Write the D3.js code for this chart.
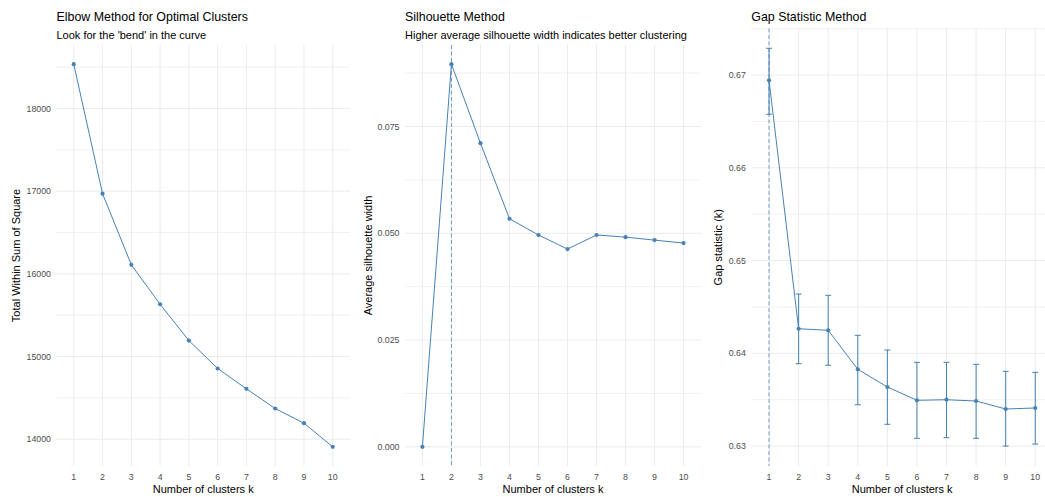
<!DOCTYPE html>
<html><head><meta charset="utf-8">
<script src="https://cdn.jsdelivr.net/npm/d3@7"></script>
<style>
body{margin:0;background:#fff}
svg{display:block}
text{font-family:"Liberation Sans",Arial,Helvetica,sans-serif}
</style></head>
<body><svg id="c" width="1045" height="497"></svg>
<script>
// ---- data ----
const clustersK = [1,2,3,4,5,6,7,8,9,10];
const elbowWSS = [18536,16969,16109,15632,15193,14855,14609,14371,14193,13907];
const silhouetteWidth = [0,0.0896,0.0711,0.0534,0.0496,0.0463,0.0496,0.0491,0.0484,0.0477];
const gapStat  = [0.66943,0.64265,0.64248,0.63828,0.63637,0.63494,0.63500,0.63486,0.63400,0.63411];
const gapLower = [0.66577,0.63888,0.63871,0.63446,0.63235,0.63084,0.63091,0.63084,0.63000,0.63022];
const gapUpper = [0.67288,0.64639,0.64625,0.64194,0.64036,0.63903,0.63903,0.63881,0.63806,0.63795];
const elbowTicks = [14000,15000,16000,17000,18000];
const silTicks = [0,0.025,0.05,0.075];
const gapTicks = [0.63,0.64,0.65,0.66,0.67];
const optimalSil = 2;
const optimalGap = 1;

const svg = d3.select("#c");
const COL = "steelblue";

function panel(cfg){
  const g = svg.append("g");
  const x = d3.scalePoint().domain(clustersK).range([cfg.left,cfg.right]).padding(0.6);
  const lo = d3.min(cfg.lo || cfg.values), hi = d3.max(cfg.hi || cfg.values);
  const pad = (hi-lo)*0.05;
  const y = d3.scaleLinear().domain([lo-pad,hi+pad]).range([cfg.bottom,cfg.top]);
  const [d0,d1] = y.domain();
  // minor grid
  const step = cfg.ticks[1]-cfg.ticks[0];
  const minors = [];
  for(let t=cfg.ticks[0]-step/2; t<=d1+1e-12; t+=step){ if(t>=d0-1e-12) minors.push(t); }
  g.selectAll(".mn").data(minors).join("line")
    .attr("x1",cfg.left).attr("x2",cfg.right)
    .attr("y1",d=>y(d)).attr("y2",d=>y(d))
    .attr("stroke","#ededed").attr("stroke-width",0.8);
  g.selectAll(".mj").data(cfg.ticks).join("line")
    .attr("x1",cfg.left).attr("x2",cfg.right)
    .attr("y1",d=>y(d)).attr("y2",d=>y(d))
    .attr("stroke","#ebebeb").attr("stroke-width",1);
  g.selectAll(".vx").data(clustersK).join("line")
    .attr("x1",d=>x(d)).attr("x2",d=>x(d))
    .attr("y1",cfg.top).attr("y2",cfg.bottom)
    .attr("stroke","#ebebeb").attr("stroke-width",1);
  // tick labels
  g.selectAll(".yt").data(cfg.ticks).join("text")
    .attr("x",cfg.left-5.5).attr("y",d=>y(d)).attr("dy","0.35em")
    .attr("text-anchor","end").attr("font-size",8.8).attr("fill","#4d4d4d")
    .text(cfg.fmt);
  g.selectAll(".xt").data(clustersK).join("text")
    .attr("x",d=>x(d)).attr("y",cfg.bottom+14.3)
    .attr("text-anchor","middle").attr("font-size",8.8).attr("fill","#4d4d4d")
    .text(d=>d);
  // axis titles
  g.append("text")
    .attr("x",(x(1)+x(10))/2).attr("y",493)
    .attr("text-anchor","middle").attr("font-size",11).attr("fill","#000")
    .text("Number of clusters k");
  g.append("text")
    .attr("transform",`translate(${cfg.ytx},${(cfg.top+cfg.bottom)/2}) rotate(-90)`)
    .attr("text-anchor","middle").attr("font-size",11).attr("fill","#000")
    .text(cfg.ylab);
  // titles
  g.append("text").attr("x",cfg.left).attr("y",21.3).attr("font-size",12.4).attr("fill","#000").text(cfg.title);
  if(cfg.subtitle) g.append("text").attr("x",cfg.left).attr("y",38.5).attr("font-size",11).attr("fill","#000").text(cfg.subtitle);
  // vline
  if(cfg.vline!=null){
    g.append("line").attr("x1",x(cfg.vline)).attr("x2",x(cfg.vline))
      .attr("y1",cfg.top).attr("y2",cfg.bottom)
      .attr("stroke",COL).attr("stroke-opacity",0.75).attr("stroke-width",1).attr("stroke-dasharray","4,2.5");
  }
  // error bars
  if(cfg.lo){
    const cap = x.step()*0.1;
    const eb = g.append("g").attr("stroke",COL).attr("stroke-width",1).attr("fill","none");
    clustersK.forEach((k,i)=>{
      const cx = x(k);
      eb.append("line").attr("x1",cx).attr("x2",cx).attr("y1",y(cfg.lo[i])).attr("y2",y(cfg.hi[i]));
      eb.append("line").attr("x1",cx-cap).attr("x2",cx+cap).attr("y1",y(cfg.lo[i])).attr("y2",y(cfg.lo[i]));
      eb.append("line").attr("x1",cx-cap).attr("x2",cx+cap).attr("y1",y(cfg.hi[i])).attr("y2",y(cfg.hi[i]));
    });
  }
  const line = d3.line().x((d,i)=>x(clustersK[i])).y(d=>y(d));
  g.append("path").datum(cfg.values).attr("d",line)
    .attr("fill","none").attr("stroke",COL).attr("stroke-width",1);
  g.selectAll(".pt").data(cfg.values).join("circle")
    .attr("cx",(d,i)=>x(clustersK[i])).attr("cy",d=>y(d)).attr("r",2.1).attr("fill",COL);
}

panel({left:56.5,right:350,top:45,bottom:466,values:elbowWSS,ticks:elbowTicks,
  fmt:d3.format("d"),title:"Elbow Method for Optimal Clusters",
  subtitle:"Look for the 'bend' in the curve",ylab:"Total Within Sum of Square",ytx:19.5});
panel({left:405,right:701,top:45,bottom:466,values:silhouetteWidth,ticks:silTicks,
  fmt:d3.format(".3f"),title:"Silhouette Method",
  subtitle:"Higher average silhouette width indicates better clustering",
  ylab:"Average silhouette width",ytx:371.5,vline:optimalSil});
panel({left:751.3,right:1053,top:28.4,bottom:466,values:gapStat,lo:gapLower,hi:gapUpper,ticks:gapTicks,
  fmt:d3.format(".2f"),title:"Gap Statistic Method",
  ylab:"Gap statistic (k)",ytx:721.5,vline:optimalGap});
</script></body></html>
